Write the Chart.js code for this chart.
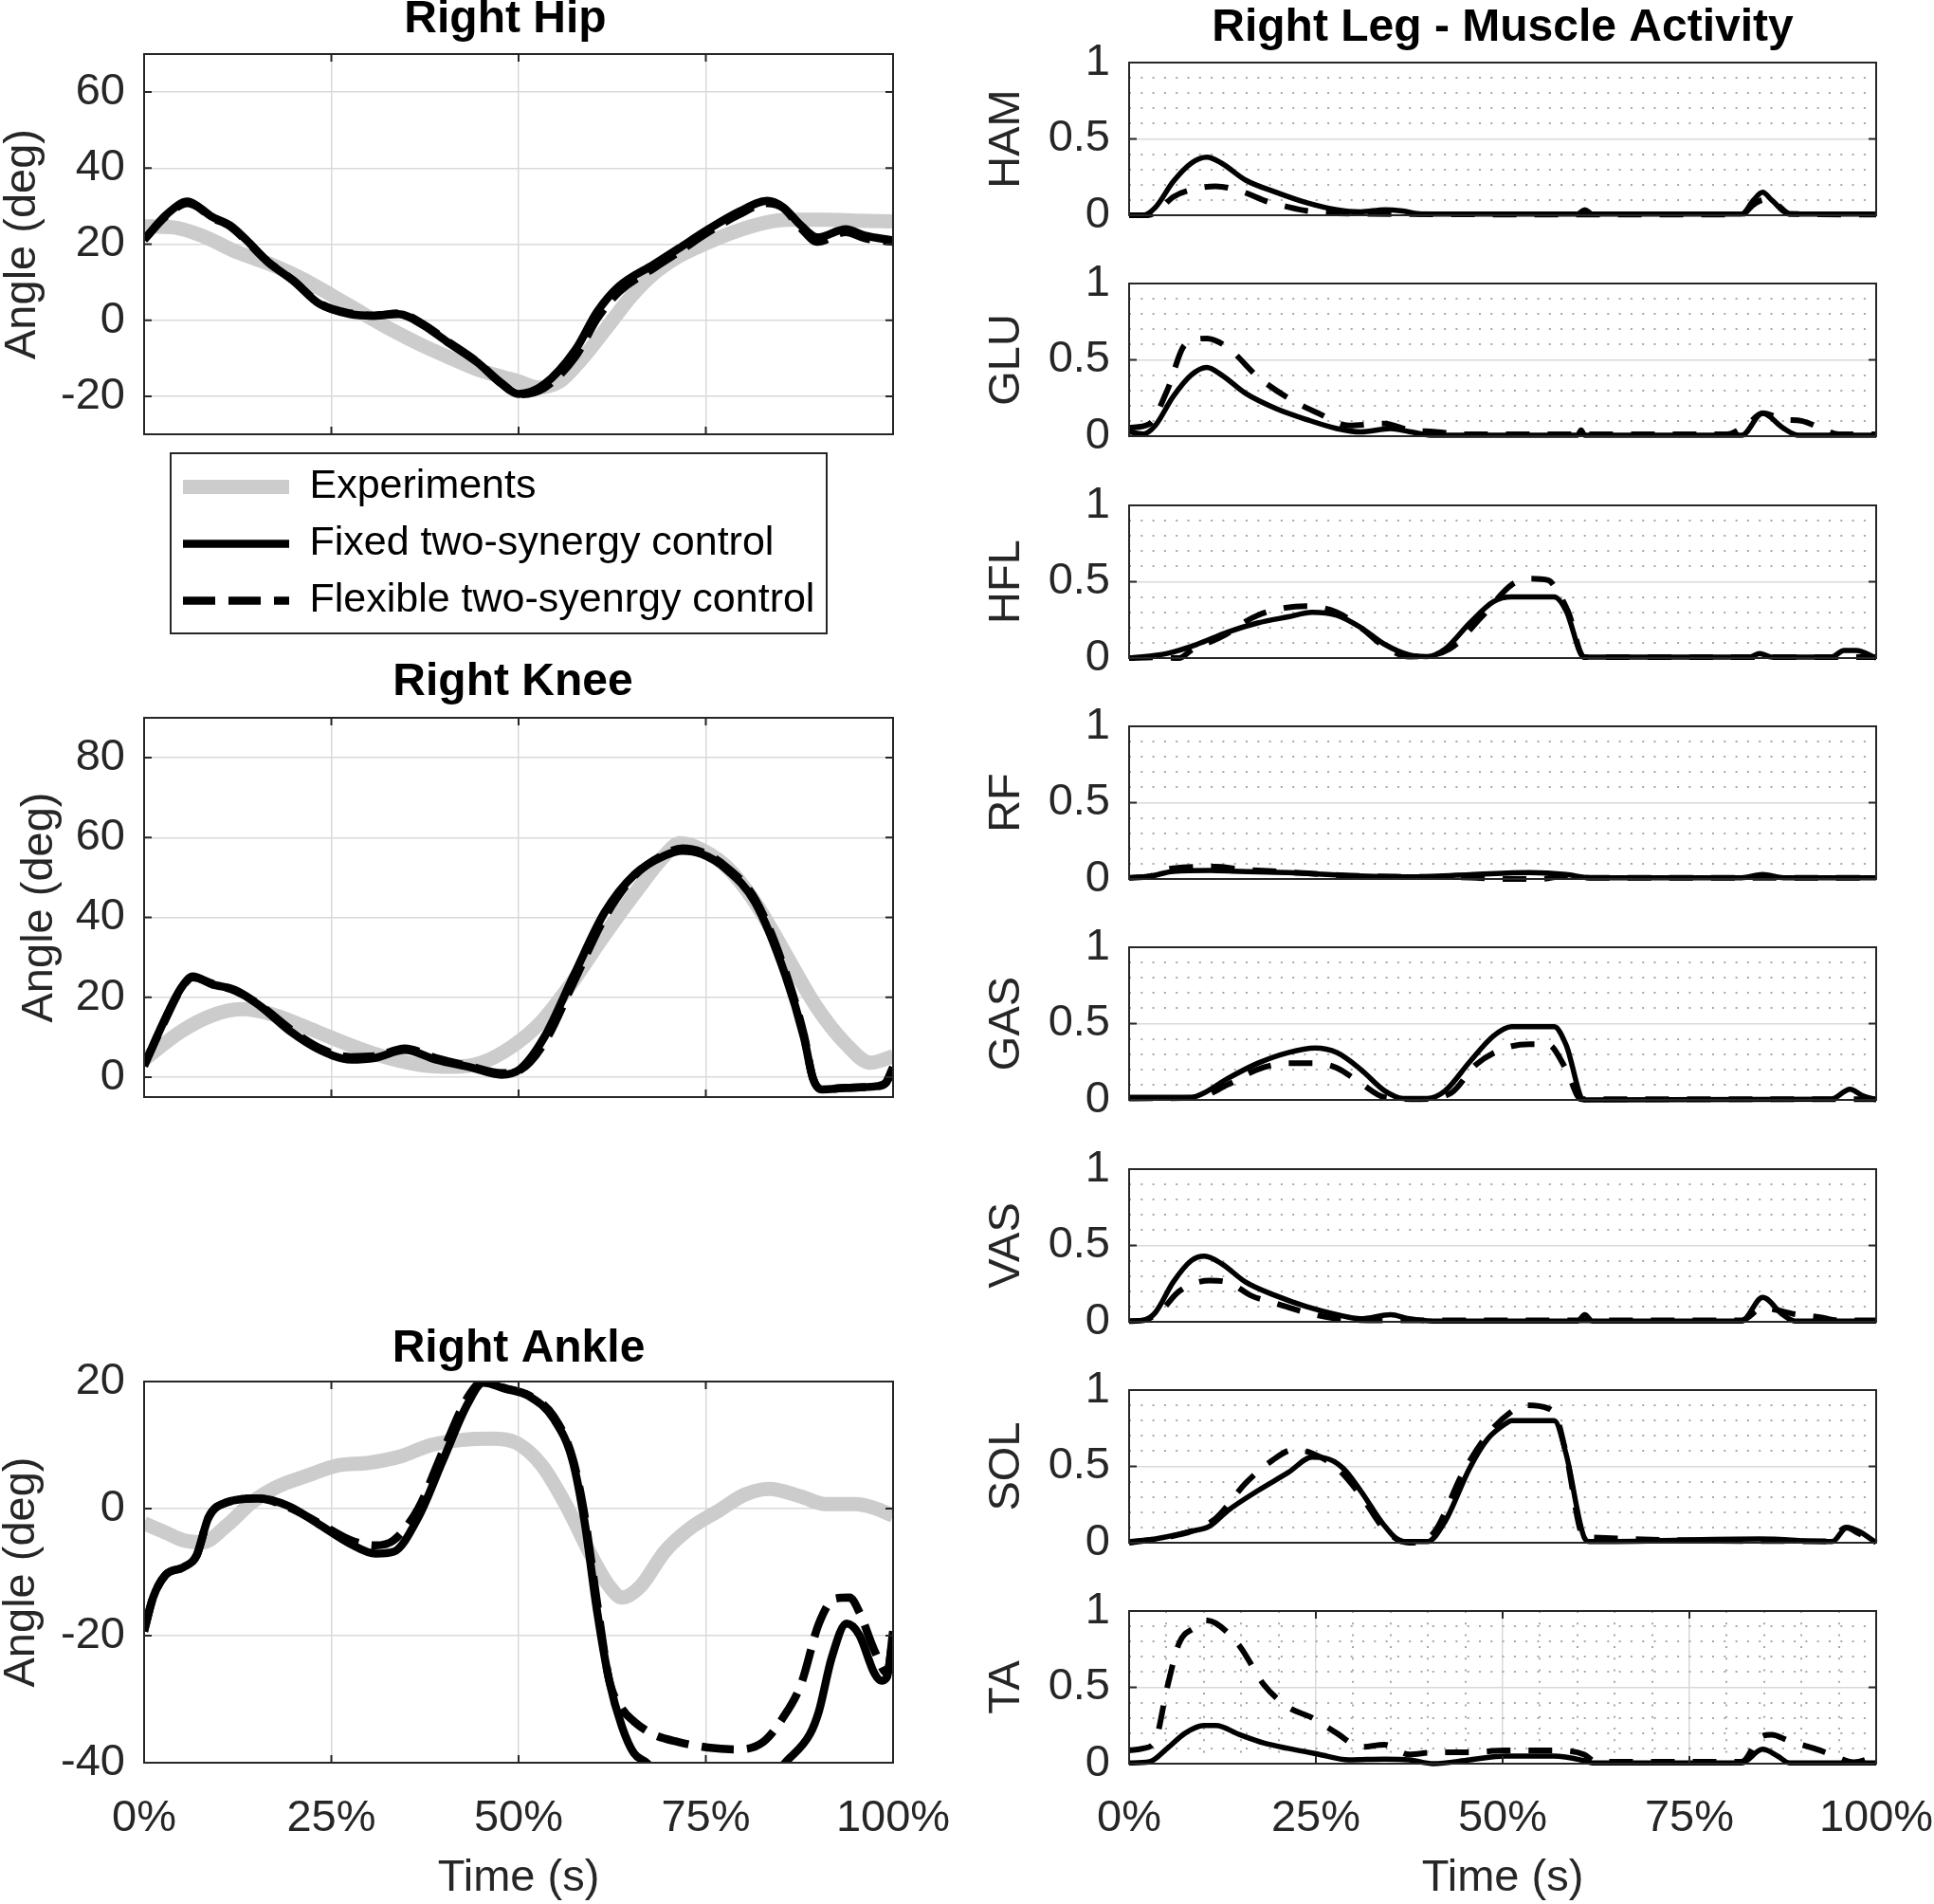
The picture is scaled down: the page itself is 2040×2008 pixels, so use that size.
<!DOCTYPE html>
<html>
<head>
<meta charset="utf-8">
<script src="https://cdn.jsdelivr.net/npm/chart.js@4.4.1/dist/chart.umd.min.js"></script>
<style>
  body { margin: 0; background: #fff; overflow: hidden; }
  #fig { position: relative; width: 2040px; height: 2008px; overflow: hidden; background: #fff; }
  #fig canvas { position: absolute; }
</style>
</head>
<body>
<div id="fig"></div>
<script>
// ---- DATA (time in % of gait cycle) ----

const seriesNames = ["Experiments", "Fixed two-synergy control", "Flexible two-syenrgy control"];
const xTickValues = [0, 25, 50, 75, 100];
const xMinorTicks = [5, 10, 15, 20, 30, 35, 40, 45, 55, 60, 65, 70, 80, 85, 90, 95];
const muscleTicks = [0, 0.5, 1];
const muscleMinorTicks = [0.1, 0.2, 0.3, 0.4, 0.6, 0.7, 0.8, 0.9];

// Right hip angle (deg)
const hipTicks = [-20, 0, 20, 40, 60];
const hipExpT = [0, 4, 8, 12.3, 16.5, 20.8, 25, 29, 33, 37, 41, 45, 48, 50, 52.5, 55.5, 58.4, 61.8, 65.1, 68.1, 71.4, 75, 78.6, 82.8, 86.1, 91.2, 95, 100];
const hipExpV = [24.7, 24.4, 22, 18, 15, 11.2, 6.6, 2, -2.5, -6.5, -10, -13.3, -15, -16.1, -17.7, -16.1, -10.3, -1.9, 6.4, 12.3, 16.8, 20.2, 23.1, 25.6, 26.4, 26.4, 26.2, 26];
const hipSimT = [0, 3, 5.8, 7, 8.9, 11.5, 13.6, 16.5, 19.9, 23.4, 27.5, 30.7, 34, 37.2, 40.4, 44.5, 47.7, 50, 53.4, 57.6, 60.5, 63.4, 68.1, 71.4, 75, 79.4, 83.2, 85.3, 87.8, 89.9, 93.7, 96.2, 100];
const hipFixV = [21.2, 27.8, 31.2, 30.2, 27.4, 24.9, 21.2, 15.4, 10.4, 4.3, 1.6, 1.2, 1.6, -1.2, -5.6, -11.1, -16.7, -19.4, -16.9, -7.75, 2.25, 8.9, 14.75, 18.9, 23.5, 28.5, 31.4, 29.75, 24.75, 21.8, 23.9, 22.25, 21];
const hipFlexV = [21.2, 27.5, 30.8, 30, 27.2, 24.7, 21, 15.4, 10.5, 4.5, 1.8, 1.2, 1.8, -1, -5.4, -11, -16.5, -19.5, -17.8, -9.5, 0.5, 7.5, 13.8, 18, 22.8, 27.8, 30.8, 29.6, 24, 20.6, 23.2, 21.6, 20.6];

// Right knee angle (deg)
const kneeTicks = [0, 20, 40, 60, 80];
const kneeExpT = [0, 5, 9, 13, 17, 21, 25, 29, 33, 37, 41, 45, 49, 53, 57, 61, 65.5, 69.5, 71.5, 73.5, 77.6, 81.6, 85.6, 89.7, 93.7, 97, 100];
const kneeExpV = [4.4, 11.5, 15.4, 17, 15.8, 13, 9.9, 7, 4.6, 3, 2.6, 3.6, 7.5, 13.8, 23.3, 34.3, 46, 55.5, 58.6, 57.8, 53, 43.7, 31, 17.8, 8.3, 3.6, 5.2];
const kneeSimT = [0, 2.6, 5, 6.5, 9, 12.3, 15.5, 19.5, 23.5, 27.6, 30.8, 34.8, 38.9, 43.7, 47.7, 50.2, 53.4, 57.4, 61.5, 65.5, 69.5, 71.9, 74.4, 77.6, 81.6, 85.6, 88.1, 89.3, 90.5, 93.7, 97.7, 99, 100];
const kneeFixV = [2.8, 13.8, 22.5, 25.2, 23.3, 21.7, 17.8, 11.5, 6.8, 4.4, 4.8, 6.8, 4.4, 2.4, 0.6, 2, 9.9, 25.6, 41.3, 50.8, 55.5, 56.7, 55.9, 52.3, 43.7, 25.6, 9.9, -0.3, -3.1, -2.7, -2.3, -1.5, 2.4];
const kneeFlexV = [3, 13.5, 22.3, 25, 23.5, 21.5, 18, 12, 7.2, 5, 5.2, 7.2, 4.8, 2.6, 1, 1.8, 8.5, 24, 40, 50.5, 55.8, 57.3, 56.4, 52.8, 44.5, 26.5, 10.5, -0.3, -3.1, -2.7, -2.3, -1.5, 2.4];

// Right ankle angle (deg)
const ankleTicks = [-40, -20, 0, 20];
const ankleExpT = [0, 2.9, 5.3, 7.8, 11.1, 14.4, 17.7, 21.8, 25.9, 30, 34.2, 38.3, 42.4, 46.5, 49.8, 53.1, 56.4, 59.7, 62.1, 63.8, 66.3, 69.5, 72.8, 76.9, 80.2, 83.5, 87.7, 91, 95, 97.5, 100];
const ankleExpV = [-2.3, -3.8, -5, -5.3, -2.6, 1, 3.4, 5.2, 6.8, 7.2, 8.2, 10, 10.8, 11, 10.3, 6.8, 0.4, -7.4, -12.2, -14, -12.2, -6.8, -3.2, -0.2, 2.2, 3.1, 1.9, 0.7, 0.7, 0.1, -1.1];
const ankleFixT = [0, 1.2, 2.9, 5.3, 7, 8.6, 11.1, 15.2, 19.3, 23.5, 27.6, 30.9, 33.3, 36.6, 39.9, 43.2, 45.3, 48.1, 51.4, 54.7, 57.2, 58.8, 60.5, 62.1, 63.8, 65.4, 67.1, 70, 76, 82, 85.6, 88.9, 90.1, 91.8, 93.8, 95.5, 97.5, 98.4, 99.2, 100];
const ankleFixV = [-19.3, -14, -10.4, -9.2, -7.4, -1.4, 1, 1.6, 0.4, -2.6, -5.6, -7.1, -6.8, -1.4, 7.6, 16.5, 19.8, 18.9, 17.7, 14.1, 7.6, -2, -16.3, -27.1, -34.3, -38.5, -40, -44, -47, -45, -40, -35.5, -31.9, -23.5, -18.1, -19.9, -25.9, -27.1, -26.5, -19.3];
const ankleFlexT = [0, 1.2, 2.9, 5.3, 7, 8.6, 11.1, 15.2, 19.3, 23.5, 27.6, 30.9, 33.3, 36.6, 39.9, 43.2, 45.3, 48.1, 51.4, 54.7, 57.2, 58.8, 60.5, 62.1, 63.8, 65.4, 67.9, 71.2, 75.3, 79.4, 82.7, 85.2, 87.7, 90.1, 92.2, 94.2, 95.5, 97.5, 99.2, 100];
const ankleFlexV = [-19.3, -14, -10.4, -9.2, -7.4, -1.4, 1, 1.6, 0.2, -2.4, -5, -5.8, -5, 0, 9, 17.5, 20, 19, 17.8, 14.5, 8, -1, -15, -27, -31.5, -33.5, -35.5, -36.7, -37.6, -37.9, -36.7, -33.1, -27.7, -18.1, -14.2, -14, -16.3, -22.3, -25.9, -19.9];

// Muscle activity (0..1), fixed = solid, flex = dashed
const hamFixT = [0, 1.9, 3.5, 5.9, 8.3, 10.4, 12.4, 15.6, 19.7, 23.7, 27.8, 31, 34.2, 36.6, 39, 60, 61, 62, 82, 83.6, 84.8, 86, 88.4, 100];
const hamFixV = [0, 0, 0.05, 0.22, 0.34, 0.38, 0.34, 0.23, 0.15, 0.083, 0.036, 0.022, 0.036, 0.028, 0.008, 0.008, 0.036, 0.008, 0.008, 0.1, 0.15, 0.1, 0.008, 0.008];
const hamFlexT = [0, 2.5, 4.3, 5.9, 9.1, 11.6, 14.8, 18.9, 20.5, 23.7, 30, 60, 82, 83.6, 85, 86.5, 88.4, 100];
const hamFlexV = [0, 0, 0.05, 0.12, 0.175, 0.19, 0.16, 0.083, 0.064, 0.03, 0.01, 0.005, 0.005, 0.07, 0.1, 0.08, 0.01, 0.005];

const gluFixT = [0, 1.9, 3.5, 5.9, 8.3, 10.4, 12.4, 15.6, 19.7, 23.7, 27.8, 31, 35, 37.5, 40.7, 60, 60.5, 61, 82, 84.8, 87.5, 89.6, 100];
const gluFixV = [0.03, 0.014, 0.07, 0.26, 0.4, 0.45, 0.4, 0.28, 0.18, 0.11, 0.05, 0.028, 0.05, 0.03, 0.006, 0.006, 0.04, 0.006, 0.006, 0.15, 0.055, 0.006, 0.006];
const gluFlexT = [0, 2.7, 5.1, 7.5, 10.4, 13.2, 17.2, 21.3, 25.3, 29.4, 34.2, 37.5, 40.7, 45, 80, 82.8, 84.8, 87.6, 90, 92.5, 95, 100];
const gluFlexV = [0.055, 0.08, 0.3, 0.6, 0.64, 0.58, 0.39, 0.25, 0.15, 0.07, 0.083, 0.04, 0.03, 0.012, 0.012, 0.08, 0.15, 0.11, 0.1, 0.055, 0.012, 0.012];

const hflFixT = [0, 5.1, 9.1, 13.2, 17.2, 21.3, 24.5, 27.8, 31, 34.2, 37.5, 39.9, 42.3, 45.6, 48.8, 51.2, 56.9, 58.5, 60.9, 83, 84.4, 86, 94, 95.7, 97.3, 100];
const hflFixV = [0, 0.03, 0.09, 0.17, 0.23, 0.27, 0.3, 0.28, 0.2, 0.09, 0.02, 0.01, 0.06, 0.23, 0.37, 0.4, 0.4, 0.31, 0.006, 0.006, 0.03, 0.006, 0.006, 0.05, 0.05, 0];
const hflFlexT = [0, 3.5, 6.7, 8.3, 12.4, 17.2, 23.7, 27.8, 31, 34.2, 37.5, 42.9, 47.2, 51.2, 53.6, 56.1, 57.3, 58.8, 60.9, 100];
const hflFlexV = [0, 0.005, 0, 0.05, 0.14, 0.28, 0.34, 0.3, 0.2, 0.075, 0.01, 0.06, 0.27, 0.48, 0.52, 0.51, 0.44, 0.3, 0.006, 0.006];

const rfFixT = [0, 2.7, 5.9, 10.8, 14.8, 21.3, 29.4, 37.5, 45.6, 53.6, 58.5, 61.7, 82, 84.8, 87.6, 100];
const rfFixV = [0.008, 0.017, 0.05, 0.056, 0.05, 0.042, 0.022, 0.014, 0.028, 0.042, 0.03, 0.008, 0.008, 0.03, 0.008, 0.008];
const rfFlexT = [0, 2.7, 5.9, 11.6, 14.8, 21.3, 29.4, 37.5, 45.6, 50.4, 55, 58.5, 61.7, 100];
const rfFlexV = [0.008, 0.017, 0.07, 0.08, 0.064, 0.045, 0.022, 0.014, 0.01, 0, 0, 0.02, 0.008, 0.008];

const gasFixT = [0, 8.3, 10, 13.2, 17.2, 21.3, 24.9, 27.8, 31, 34.2, 36.7, 39.9, 42.3, 45.6, 48.8, 51.2, 56.9, 58.5, 60.9, 94, 96.5, 98.1, 100];
const gasFixV = [0.017, 0.017, 0.045, 0.14, 0.24, 0.31, 0.34, 0.31, 0.2, 0.06, 0.01, 0.01, 0.06, 0.25, 0.42, 0.48, 0.48, 0.36, 0, 0.005, 0.07, 0.03, 0];
const gasFlexT = [0, 9, 13.2, 17.2, 21.3, 25.3, 27.8, 31, 34.2, 39, 43.1, 46.4, 50.4, 53.6, 56, 58.5, 60.5, 100];
const gasFlexV = [0.01, 0.015, 0.1, 0.2, 0.24, 0.24, 0.21, 0.11, 0.017, 0.005, 0.045, 0.23, 0.34, 0.365, 0.365, 0.2, 0.005, 0.005];

const vasFixT = [0, 1.9, 3.5, 5.9, 8.3, 10.1, 12.4, 15.6, 19.7, 23.7, 27.8, 31, 35, 37.5, 40.7, 60, 61, 62, 82, 84.8, 87.5, 89.2, 100];
const vasFixV = [0.005, 0.01, 0.06, 0.26, 0.4, 0.43, 0.38, 0.26, 0.17, 0.1, 0.047, 0.02, 0.047, 0.02, 0.005, 0.005, 0.047, 0.005, 0.005, 0.16, 0.047, 0.005, 0.005];
const vasFlexT = [0, 2, 4.3, 6.7, 10.8, 13.2, 16.4, 19.7, 23.7, 27.8, 32, 60, 82, 84.8, 89.2, 92.5, 95, 100];
const vasFlexV = [0.005, 0.01, 0.075, 0.2, 0.27, 0.26, 0.17, 0.12, 0.06, 0.02, 0.01, 0.01, 0.01, 0.09, 0.05, 0.03, 0.01, 0.01];

const solFixT = [0, 3.5, 8.3, 10.8, 13.2, 17.2, 21.3, 24.5, 26.2, 28.6, 31, 34.2, 36.6, 39.9, 42.3, 45.6, 48, 50.4, 51.2, 56.9, 58.5, 60.9, 61.7, 84.4, 94.1, 96.1, 97.7, 100];
const solFixV = [0.007, 0.025, 0.075, 0.11, 0.21, 0.34, 0.46, 0.56, 0.555, 0.49, 0.34, 0.11, 0.007, 0.007, 0.14, 0.49, 0.68, 0.78, 0.8, 0.8, 0.58, 0.037, 0.007, 0.025, 0.007, 0.1, 0.075, 0];
const solFlexT = [0, 5.1, 8.3, 11.6, 15.6, 18.9, 22.1, 24.5, 27.8, 31, 34.2, 37.5, 40.7, 44.7, 48, 51.2, 52.8, 56.1, 57.3, 58.5, 60.9, 93.5, 96, 97.7, 100];
const solFlexV = [0, 0.037, 0.075, 0.16, 0.39, 0.53, 0.61, 0.585, 0.49, 0.31, 0.087, 0, 0.06, 0.46, 0.71, 0.86, 0.9, 0.88, 0.81, 0.58, 0.037, 0.01, 0.1, 0.06, 0.01];

const taFixT = [0, 2.7, 5.1, 7.5, 10, 11.6, 14.8, 18, 21.3, 25.3, 29.4, 34.2, 37.5, 40.7, 45.6, 50.4, 56.9, 60.9, 62, 82, 84.8, 86.8, 88.4, 100];
const taFixV = [0.005, 0.012, 0.1, 0.2, 0.25, 0.25, 0.19, 0.136, 0.1, 0.062, 0.025, 0.03, 0.025, 0, 0.025, 0.05, 0.05, 0.02, 0.005, 0.005, 0.094, 0.05, 0.005, 0.005];
const taFlexT = [0, 1.9, 3.5, 5.1, 6.7, 8.7, 10, 11.6, 14.8, 18, 21.3, 24.5, 27.8, 31, 34.2, 37.5, 40.7, 45.6, 50.4, 56.9, 60.9, 62.5, 82, 84.4, 86, 88.3, 91.7, 94, 97, 100];
const taFlexV = [0.087, 0.1, 0.15, 0.5, 0.79, 0.89, 0.94, 0.92, 0.77, 0.52, 0.37, 0.3, 0.2, 0.11, 0.124, 0.06, 0.074, 0.074, 0.087, 0.087, 0.06, 0.012, 0.012, 0.17, 0.19, 0.15, 0.1, 0.06, 0.01, 0.05];

// ---- STYLE ----
const FIG = document.getElementById("fig");
const FONT_FAMILY = "'Liberation Sans', Arial, Helvetica, sans-serif";
const TEXT = "#262626";
const GRID = "#d9d9d9";
const MINOR = "#a8a8a8";
const MINOR_DASH = [2, 10.3];
const TICK_LEN = 8;
const TICK_FONT = { family: FONT_FAMILY, size: 47, lineHeight: 1 };
const TITLE_FONT = { family: FONT_FAMILY, size: 48, weight: "bold", lineHeight: 1 };
const LEGEND_FONT = { family: FONT_FAMILY, size: 43, lineHeight: 1 };

// line looks, left (joint) panels and right (muscle) panels
const EXP_STYLE = { color: "#cccccc", width: 15, dash: [], order: 3 };
const FIX_STYLE = { color: "#000000", width: 8.5, dash: [], order: 2 };
const FLEX_STYLE = { color: "#000000", width: 8.5, dash: [34, 14], order: 1 };
const FIX_STYLE_M = { color: "#000000", width: 5.5, dash: [], order: 2 };
const FLEX_STYLE_M = { color: "#000000", width: 6, dash: [25, 19], order: 1 };

Chart.defaults.font.family = FONT_FAMILY;
Chart.defaults.color = TEXT;

// Draws the black axes box plus the small inward tick marks (MATLAB look)
const matlabBox = {
  id: "matlabBox",
  afterDatasetsDraw(chart, args, opts) {
    const { ctx, chartArea: a, scales } = chart;
    ctx.save();
    ctx.setLineDash([]);
    ctx.strokeStyle = TEXT;
    ctx.lineWidth = 2;
    ctx.strokeRect(a.left, a.top, a.width, a.height);
    ctx.beginPath();
    scales.y.ticks.forEach((t) => {
      const py = scales.y.getPixelForValue(t.value);
      ctx.moveTo(a.left, py);
      ctx.lineTo(a.left + TICK_LEN, py);
      ctx.moveTo(a.right, py);
      ctx.lineTo(a.right - TICK_LEN, py);
    });
    if (opts.xTicks) {
      scales.x.ticks.forEach((t) => {
        const px = scales.x.getPixelForValue(t.value);
        ctx.moveTo(px, a.bottom);
        ctx.lineTo(px, a.bottom - TICK_LEN);
        ctx.moveTo(px, a.top);
        ctx.lineTo(px, a.top + TICK_LEN);
      });
    }
    ctx.stroke();
    ctx.restore();
  },
};

// Frame round the legend, like a MATLAB legend box
const legendFrame = {
  id: "legendFrame",
  afterDraw(chart) {
    const lg = chart.legend;
    const ctx = chart.ctx;
    ctx.save();
    ctx.strokeStyle = TEXT;
    ctx.lineWidth = 2;
    ctx.strokeRect(lg.left + 4, lg.top + 3, lg.width - 8, 190);
    ctx.restore();
  },
};

// HELPERS

function pts(t, v) {
  return t.map((x, i) => ({ x: x, y: v[i] }));
}

function addCanvas(left, top, width, height) {
  const c = document.createElement("canvas");
  c.width = width;
  c.height = height;
  c.style.left = left + "px";
  c.style.top = top + "px";
  c.style.width = width + "px";
  c.style.height = height + "px";
  FIG.appendChild(c);
  return c;
}

function lineSet(label, t, v, style, clip) {
  return {
    label: label,
    data: pts(t, v),
    borderColor: style.color,
    borderWidth: style.width,
    borderDash: style.dash,
    borderCapStyle: "butt",
    borderJoinStyle: "round",
    pointRadius: 0,
    fill: false,
    cubicInterpolationMode: "monotone",
    clip: clip,
    order: style.order,
    xAxisID: "x",
    yAxisID: "y",
  };
}

function tickSetter(values) {
  return (scale) => {
    scale.ticks = values.map((v) => ({ value: v }));
  };
}

// One axes panel. area = chart area in page pixels
function makePlot(spec) {
  const a = spec.area;
  const canvasLeft = a.l - spec.yAxisWidth;
  const canvasTop = spec.title ? spec.titleY - 24 : a.t - 60;
  // an empty right-hand box moves the (full width) title to where we want it
  const shiftW = spec.title ? Math.max(0, 2 * spec.titleX - canvasLeft - a.r) : 0;
  const xH = spec.xLabels ? 150 : 0;
  const padBottom = spec.xLabels ? 0 : 60;
  const width = Math.round(a.r + 110 + shiftW - canvasLeft);
  const height = Math.round(a.b + xH + padBottom - canvasTop);

  const scales = {
    x: {
      type: "linear",
      position: "bottom",
      min: 0,
      max: 100,
      afterBuildTicks: tickSetter(xTickValues),
      afterFit: (s) => { s.height = xH; },
      grid: { display: spec.xGrid, color: GRID, lineWidth: 1.5, drawTicks: false },
      border: { display: false },
      ticks: {
        display: spec.xLabels,
        autoSkip: false,
        maxRotation: 0,
        padding: 1918 - a.b - 23.5,
        font: TICK_FONT,
        color: TEXT,
        callback: (v) => v + "%",
      },
      title: {
        display: spec.xLabels,
        text: "Time (s)",
        font: TICK_FONT,
        color: TEXT,
        padding: { top: 0, bottom: a.b + xH - 23.5 - 1981 },
      },
    },
    y: {
      type: "linear",
      position: "left",
      min: spec.yMin,
      max: spec.yMax,
      afterBuildTicks: tickSetter(spec.yTicks),
      afterFit: (s) => { s.width = spec.yAxisWidth; },
      grid: { color: GRID, lineWidth: 1.5, drawTicks: false },
      border: { display: false },
      ticks: { padding: 20, font: TICK_FONT, color: TEXT, autoSkip: false, callback: (v) => String(v) },
      title: {
        display: true,
        text: spec.yTitle,
        font: TICK_FONT,
        color: TEXT,
        padding: { top: Math.max(0, spec.yTitleX - canvasLeft - 23.5), bottom: 0 },
      },
    },
  };

  if (shiftW > 0) {
    scales.yShift = {
      type: "linear",
      axis: "y",
      position: "right",
      afterFit: (s) => { s.width = shiftW; },
      ticks: { display: false },
      grid: { display: false },
      border: { display: false },
    };
  }

  // dotted minor grid of the muscle panels
  if (spec.minorY) {
    scales.yMinor = {
      type: "linear",
      axis: "y",
      position: "left",
      min: spec.yMin,
      max: spec.yMax,
      afterBuildTicks: tickSetter(muscleMinorTicks),
      afterFit: (s) => { s.width = 0; },
      ticks: { display: false },
      grid: { color: MINOR, lineWidth: 2, drawTicks: false },
      border: { display: false, dash: MINOR_DASH },
    };
  }
  if (spec.minorX) {
    scales.xMinor = {
      type: "linear",
      axis: "x",
      position: "bottom",
      min: 0,
      max: 100,
      afterBuildTicks: tickSetter(xMinorTicks),
      afterFit: (s) => { s.height = 0; },
      ticks: { display: false },
      grid: { color: MINOR, lineWidth: 2, drawTicks: false },
      border: { display: false, dash: MINOR_DASH },
    };
  }

  const canvas = addCanvas(canvasLeft, canvasTop, width, height);
  new Chart(canvas, {
    type: "line",
    data: { datasets: spec.datasets },
    options: {
      responsive: false,
      animation: false,
      devicePixelRatio: 1,
      events: [],
      layout: {
        padding: { left: 0, right: 110, top: spec.title ? 0 : 60, bottom: padBottom },
      },
      scales: scales,
      plugins: {
        legend: { display: false },
        tooltip: { enabled: false },
        title: {
          display: !!spec.title,
          text: spec.title || "",
          font: TITLE_FONT,
          color: "#000000",
          padding: { top: 0, bottom: a.t - canvasTop - 48 },
        },
        matlabBox: { xTicks: spec.xTickMarks },
      },
    },
    plugins: [matlabBox],
  });
}

// ---- LEFT COLUMN: joint angles ----

makePlot({
  area: { l: 152, t: 57, r: 942, b: 458 },
  yAxisWidth: 152, title: "Right Hip", titleX: 533, titleY: 21,
  yMin: -30, yMax: 70, yTicks: hipTicks, yTitle: "Angle (deg)", yTitleX: 24,
  xLabels: false, xGrid: true, xTickMarks: true,
  datasets: [
    lineSet(seriesNames[0], hipExpT, hipExpV, EXP_STYLE, 0),
    lineSet(seriesNames[1], hipSimT, hipFixV, FIX_STYLE, 0),
    lineSet(seriesNames[2], hipSimT, hipFlexV, FLEX_STYLE, 0),
  ],
});

makePlot({
  area: { l: 152, t: 757, r: 942, b: 1157 },
  yAxisWidth: 152, title: "Right Knee", titleX: 541, titleY: 720,
  yMin: -5, yMax: 90, yTicks: kneeTicks, yTitle: "Angle (deg)", yTitleX: 42,
  xLabels: false, xGrid: true, xTickMarks: true,
  datasets: [
    lineSet(seriesNames[0], kneeExpT, kneeExpV, EXP_STYLE, 0),
    lineSet(seriesNames[1], kneeSimT, kneeFixV, FIX_STYLE, 0),
    lineSet(seriesNames[2], kneeSimT, kneeFlexV, FLEX_STYLE, 0),
  ],
});

makePlot({
  area: { l: 152, t: 1457, r: 942, b: 1859 },
  yAxisWidth: 152, title: "Right Ankle", titleX: 547, titleY: 1423,
  yMin: -40, yMax: 20, yTicks: ankleTicks, yTitle: "Angle (deg)", yTitleX: 23,
  xLabels: true, xGrid: true, xTickMarks: true,
  datasets: [
    lineSet(seriesNames[0], ankleExpT, ankleExpV, EXP_STYLE, 0),
    lineSet(seriesNames[1], ankleFixT, ankleFixV, FIX_STYLE, 0),
    lineSet(seriesNames[2], ankleFlexT, ankleFlexV, FLEX_STYLE, 0),
  ],
});

// Legend sits in its own small chart between hip and knee
const legendCanvas = addCanvas(176, 475, 700, 500);
new Chart(legendCanvas, {
  type: "line",
  data: { datasets: [] },
  options: {
    responsive: false,
    animation: false,
    devicePixelRatio: 1,
    events: [],
    layout: { padding: 0 },
    scales: { x: { display: false }, y: { display: false } },
    plugins: {
      tooltip: { enabled: false },
      legend: {
        display: true,
        position: "top",
        align: "start",
        labels: {
          usePointStyle: true,
          pointStyleWidth: 112,
          padding: 17,
          color: "#000000",
          font: LEGEND_FONT,
          generateLabels: () =>
            [EXP_STYLE, FIX_STYLE, FLEX_STYLE].map((st, i) => ({
              text: seriesNames[i],
              strokeStyle: st.color,
              fillStyle: st.color,
              lineWidth: st.width,
              lineDash: st.dash,
              lineCap: "butt",
              pointStyle: "line",
              fontColor: "#000000",
              hidden: false,
              datasetIndex: i,
            })),
        },
      },
    },
  },
  plugins: [legendFrame],
});

// ---- RIGHT COLUMN: muscle activity ----

const muscles = [
  { name: "HAM", fixT: hamFixT, fixV: hamFixV, flexT: hamFlexT, flexV: hamFlexV },
  { name: "GLU", fixT: gluFixT, fixV: gluFixV, flexT: gluFlexT, flexV: gluFlexV },
  { name: "HFL", fixT: hflFixT, fixV: hflFixV, flexT: hflFlexT, flexV: hflFlexV },
  { name: "RF", fixT: rfFixT, fixV: rfFixV, flexT: rfFlexT, flexV: rfFlexV },
  { name: "GAS", fixT: gasFixT, fixV: gasFixV, flexT: gasFlexT, flexV: gasFlexV },
  { name: "VAS", fixT: vasFixT, fixV: vasFixV, flexT: vasFlexT, flexV: vasFlexV },
  { name: "SOL", fixT: solFixT, fixV: solFixV, flexT: solFlexT, flexV: solFlexV },
  { name: "TA", fixT: taFixT, fixV: taFixV, flexT: taFlexT, flexV: taFlexV },
];

muscles.forEach((m, i) => {
  const top = Math.round(66 + i * 233.3);
  const last = i === muscles.length - 1;
  makePlot({
    area: { l: 1191, t: top, r: 1979, b: last ? 1860 : top + 161 },
    yAxisWidth: 161,
    title: i === 0 ? "Right Leg - Muscle Activity" : null, titleX: 1585, titleY: 30,
    yMin: 0, yMax: 1, yTicks: muscleTicks, yTitle: m.name, yTitleX: 1062.5,
    xLabels: last, xGrid: last, xTickMarks: last,
    minorY: true, minorX: last,
    datasets: [
      lineSet(seriesNames[1], m.fixT, m.fixV, FIX_STYLE_M, 3),
      lineSet(seriesNames[2], m.flexT, m.flexV, FLEX_STYLE_M, 3),
    ],
  });
});
</script>
</body>
</html>
